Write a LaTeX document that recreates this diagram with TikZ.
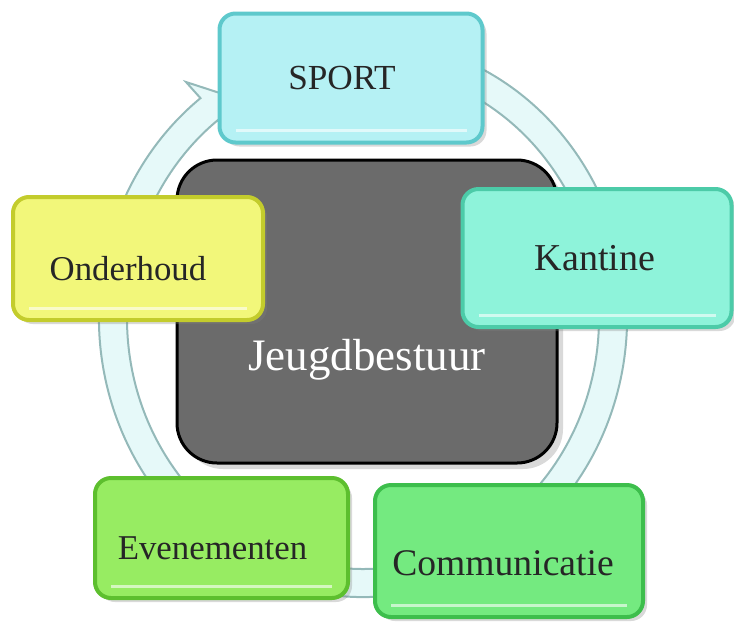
\documentclass[tikz,border=0pt]{standalone}
\usepackage{fontspec}
\setmainfont{Liberation Serif}
\usetikzlibrary{shadows}

\definecolor{sportfill}{HTML}{B5F1F4}
\definecolor{sportrand}{HTML}{5EC9CC}
\definecolor{kantfill}{HTML}{8EF3DA}
\definecolor{kantrand}{HTML}{4CCBA8}
\definecolor{commfill}{HTML}{74EA80}
\definecolor{commrand}{HTML}{3DBE4C}
\definecolor{evenfill}{HTML}{97EC62}
\definecolor{evenrand}{HTML}{5DBF2E}
\definecolor{ondfill}{HTML}{F2F77A}
\definecolor{ondrand}{HTML}{C3CC2C}
\definecolor{bestuurfill}{HTML}{6B6B6B}
\definecolor{ringfill}{HTML}{E6F9F9}
\definecolor{ringrand}{HTML}{94B9B9}

\tikzset{
  blok/.style 2 args={rectangle, rounded corners=8pt, fill=#1, draw=#2, line width=2pt,
    drop shadow={shadow xshift=2pt, shadow yshift=-2pt, opacity=.3},
    path picture={\draw[white, line width=1.5pt, opacity=.6]
      ([shift={(8pt,6pt)}]path picture bounding box.south west) --
      ([shift={(-8pt,6pt)}]path picture bounding box.south east);}},
  tekst/.style={font=\fontsize{#1}{22}\selectfont, text=black!85},
}

\begin{document}
\begin{tikzpicture}[x=0.5pt, y=-0.5pt]
  \useasboundingbox (0,0) rectangle (734,628);
  % kringloop
  \filldraw[fill=ringfill, draw=ringrand, line width=1pt]
    ({363+264*cos(-70)},{318+279*sin(-70)})
      arc[start angle=-70, end angle=232, x radius=264, y radius=279]
    -- (186,82) -- (225.9,95.0) -- (232,136)
    -- ({363+236*cos(232)},{318+251*sin(232)})
      arc[start angle=232, end angle=-70, x radius=236, y radius=251] -- cycle;
  \node[rectangle, rounded corners=20pt, fill=bestuurfill, draw=black, line width=1.5pt,
    minimum width=190pt, minimum height=151.5pt,
    drop shadow={shadow xshift=3pt, shadow yshift=-3pt, opacity=.3},
    label={[font=\fontsize{22.5}{26}\selectfont, text=white, yshift=-24pt]center:Jeugdbestuur}]
    (bestuur) at (367,311.5) {};
  \node[blok={sportfill}{sportrand}, minimum width=131.5pt, minimum height=64.5pt,
    label={[tekst=17.6, xshift=-4.5pt]center:SPORT}] (sport) at (351,78) {};
  \node[blok={kantfill}{kantrand}, minimum width=134.5pt, minimum height=69pt,
    label={[tekst=19, xshift=-1pt]center:Kantine}] (kantine) at (597,258) {};
  \node[blok={commfill}{commrand}, minimum width=134pt, minimum height=66pt,
    label={[tekst=18.8, xshift=-3pt, yshift=-6pt]center:Communicatie}] (comm) at (509,551) {};
  \node[blok={evenfill}{evenrand}, minimum width=126.5pt, minimum height=60pt,
    label={[tekst=17.4, xshift=-4.5pt, yshift=-5pt]center:Evenementen}] (even) at (221.5,538) {};
  \node[blok={ondfill}{ondrand}, minimum width=125pt, minimum height=61.5pt,
    label={[tekst=17.4, xshift=-5pt, yshift=-5pt]center:Onderhoud}] (onderhoud) at (138,258.5) {};
\end{tikzpicture}
\end{document}
